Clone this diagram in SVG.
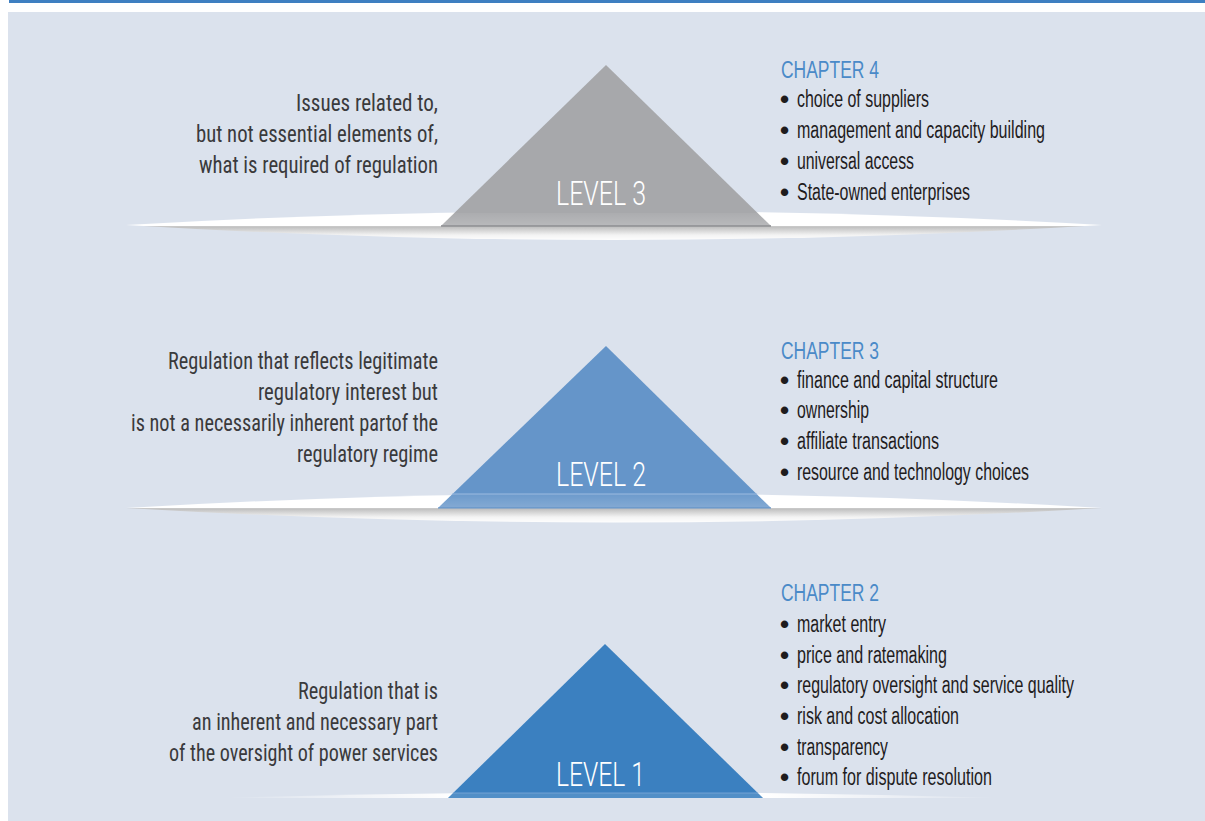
<svg xmlns="http://www.w3.org/2000/svg" width="1205" height="821" viewBox="0 0 1205 821">
<defs>
<style>
.l{font-family:"Liberation Sans Narrow","Roboto Condensed","Liberation Sans",Arial,sans-serif;font-size:23px;fill:#3a3a3c}
.r{font-family:"Liberation Sans Narrow","Liberation Sans",Arial,sans-serif;font-size:23px;fill:#1f1c1d}
.b{font-size:26px;font-weight:bold}
.ch{font-family:"Liberation Sans Narrow","Liberation Sans",Arial,sans-serif;font-size:23px;fill:#4a8ac8}
.lv{font-family:Roboto,"Liberation Sans",sans-serif;font-weight:300;font-size:33px;fill:#ffffff}
</style>
<linearGradient id="sh3" gradientUnits="userSpaceOnUse" x1="0" y1="211" x2="0" y2="241">
<stop offset="0" stop-color="#ffffff"/><stop offset="0.5" stop-color="#ffffff"/><stop offset="0.52" stop-color="#bdbdbd"/><stop offset="0.8" stop-color="#f3f3f3"/><stop offset="1" stop-color="#ffffff"/>
</linearGradient>
<linearGradient id="sh2" gradientUnits="userSpaceOnUse" x1="0" y1="493" x2="0" y2="523">
<stop offset="0" stop-color="#ffffff"/><stop offset="0.5" stop-color="#ffffff"/><stop offset="0.52" stop-color="#bdbdbd"/><stop offset="0.8" stop-color="#f3f3f3"/><stop offset="1" stop-color="#ffffff"/>
</linearGradient>
<linearGradient id="sh1" x1="0" y1="0" x2="1" y2="0">
<stop offset="0" stop-color="#ffffff" stop-opacity="0"/><stop offset="0.3" stop-color="#ffffff"/><stop offset="0.7" stop-color="#ffffff"/><stop offset="1" stop-color="#ffffff" stop-opacity="0"/>
</linearGradient>
<linearGradient id="ov" x1="0" y1="0" x2="0" y2="1">
<stop offset="0" stop-color="#ffffff" stop-opacity="0.05"/><stop offset="1" stop-color="#ffffff" stop-opacity="0.2"/>
</linearGradient>
</defs>
<rect x="0" y="0" width="1205" height="821" fill="#ffffff"/>
<rect x="9" y="0" width="1196" height="3" fill="#3e7fc1"/>
<rect x="8" y="12" width="1197" height="809" fill="#dbe2ed"/>
<g id="connectors"/>
<g id="level3">
<path d="M126,225 Q614,197 1102,225 Q614,255 126,225 Z" fill="url(#sh3)"/>
<polygon points="606,65 771,226 441,226" fill="#a7a8ab"/>
<polygon points="454,213 758,213 771,226 441,226" fill="url(#ov)"/>
<line x1="441" y1="226" x2="771" y2="226" stroke="#8d8e91" stroke-width="1.5"/>
<text class="lv" x="556" y="205" textLength="90" lengthAdjust="spacingAndGlyphs">LEVEL 3</text>
<text class="l" x="296" y="111" textLength="142" lengthAdjust="spacingAndGlyphs">Issues related to,</text>
<text class="l" x="196" y="142" textLength="242" lengthAdjust="spacingAndGlyphs">but not essential elements of,</text>
<text class="l" x="199" y="173" textLength="239" lengthAdjust="spacingAndGlyphs">what is required of regulation</text>
<text class="ch" x="781" y="78" textLength="98" lengthAdjust="spacingAndGlyphs">CHAPTER 4</text>
<text class="r"><tspan class="b" x="780" y="108">•</tspan><tspan x="797" y="107" textLength="132" lengthAdjust="spacingAndGlyphs">choice of suppliers</tspan></text>
<text class="r"><tspan class="b" x="780" y="139">•</tspan><tspan x="797" y="138" textLength="248" lengthAdjust="spacingAndGlyphs">management and capacity building</tspan></text>
<text class="r"><tspan class="b" x="780" y="170">•</tspan><tspan x="797" y="169" textLength="117" lengthAdjust="spacingAndGlyphs">universal access</tspan></text>
<text class="r"><tspan class="b" x="780" y="201">•</tspan><tspan x="797" y="200" textLength="173" lengthAdjust="spacingAndGlyphs">State-owned enterprises</tspan></text>
</g>
<g id="level2">
<path d="M126,508 Q614,479 1102,508 Q614,537 126,508 Z" fill="url(#sh2)"/>
<polygon points="606,346 771,508 438,508" fill="#6595c9"/>
<polygon points="452,494 757,494 771,508 438,508" fill="url(#ov)"/>
<line x1="452" y1="494" x2="757" y2="494" stroke="#9dbbe0" stroke-width="1"/>
<line x1="438" y1="508" x2="771" y2="508" stroke="#5a8bc4" stroke-width="1.2"/>
<text class="lv" x="556" y="486" textLength="90" lengthAdjust="spacingAndGlyphs">LEVEL 2</text>
<text class="l" x="168" y="369" textLength="270" lengthAdjust="spacingAndGlyphs">Regulation that reflects legitimate</text>
<text class="l" x="258" y="400" textLength="180" lengthAdjust="spacingAndGlyphs">regulatory interest but</text>
<text class="l" x="131" y="431" textLength="307" lengthAdjust="spacingAndGlyphs">is not a necessarily inherent partof the</text>
<text class="l" x="297" y="462" textLength="141" lengthAdjust="spacingAndGlyphs">regulatory regime</text>
<text class="ch" x="781" y="359" textLength="98" lengthAdjust="spacingAndGlyphs">CHAPTER 3</text>
<text class="r"><tspan class="b" x="780" y="389">•</tspan><tspan x="797" y="388" textLength="201" lengthAdjust="spacingAndGlyphs">finance and capital structure</tspan></text>
<text class="r"><tspan class="b" x="780" y="419">•</tspan><tspan x="797" y="418" textLength="72" lengthAdjust="spacingAndGlyphs">ownership</tspan></text>
<text class="r"><tspan class="b" x="780" y="450">•</tspan><tspan x="797" y="449" textLength="142" lengthAdjust="spacingAndGlyphs">affiliate transactions</tspan></text>
<text class="r"><tspan class="b" x="780" y="481">•</tspan><tspan x="797" y="480" textLength="232" lengthAdjust="spacingAndGlyphs">resource and technology choices</tspan></text>
</g>
<g id="level1">
<path d="M222,798 Q612,786 1003,798 Z" fill="url(#sh1)"/>
<polygon points="605,644 763,798 448,798" fill="#3b80c0"/>
<polygon points="453,793 758,793 763,798 448,798" fill="#ffffff" fill-opacity="0.12"/>
<line x1="453" y1="793" x2="758" y2="793" stroke="#7fa8d8" stroke-width="0.8"/>
<text class="lv" x="556" y="786" textLength="89" lengthAdjust="spacingAndGlyphs">LEVEL 1</text>
<text class="l" x="298" y="699" textLength="140" lengthAdjust="spacingAndGlyphs">Regulation that is</text>
<text class="l" x="192" y="730" textLength="246" lengthAdjust="spacingAndGlyphs">an inherent and necessary part</text>
<text class="l" x="169" y="761" textLength="269" lengthAdjust="spacingAndGlyphs">of the oversight of power services</text>
<text class="ch" x="781" y="601" textLength="98" lengthAdjust="spacingAndGlyphs">CHAPTER 2</text>
<text class="r"><tspan class="b" x="780" y="633">•</tspan><tspan x="797" y="632" textLength="89" lengthAdjust="spacingAndGlyphs">market entry</tspan></text>
<text class="r"><tspan class="b" x="780" y="664">•</tspan><tspan x="797" y="663" textLength="150" lengthAdjust="spacingAndGlyphs">price and ratemaking</tspan></text>
<text class="r"><tspan class="b" x="780" y="694">•</tspan><tspan x="797" y="693" textLength="277" lengthAdjust="spacingAndGlyphs">regulatory oversight and service quality</tspan></text>
<text class="r"><tspan class="b" x="780" y="725">•</tspan><tspan x="797" y="724" textLength="162" lengthAdjust="spacingAndGlyphs">risk and cost allocation</tspan></text>
<text class="r"><tspan class="b" x="780" y="756">•</tspan><tspan x="797" y="755" textLength="91" lengthAdjust="spacingAndGlyphs">transparency</tspan></text>
<text class="r"><tspan class="b" x="780" y="786">•</tspan><tspan x="797" y="785" textLength="195" lengthAdjust="spacingAndGlyphs">forum for dispute resolution</tspan></text>
</g>
</svg>
